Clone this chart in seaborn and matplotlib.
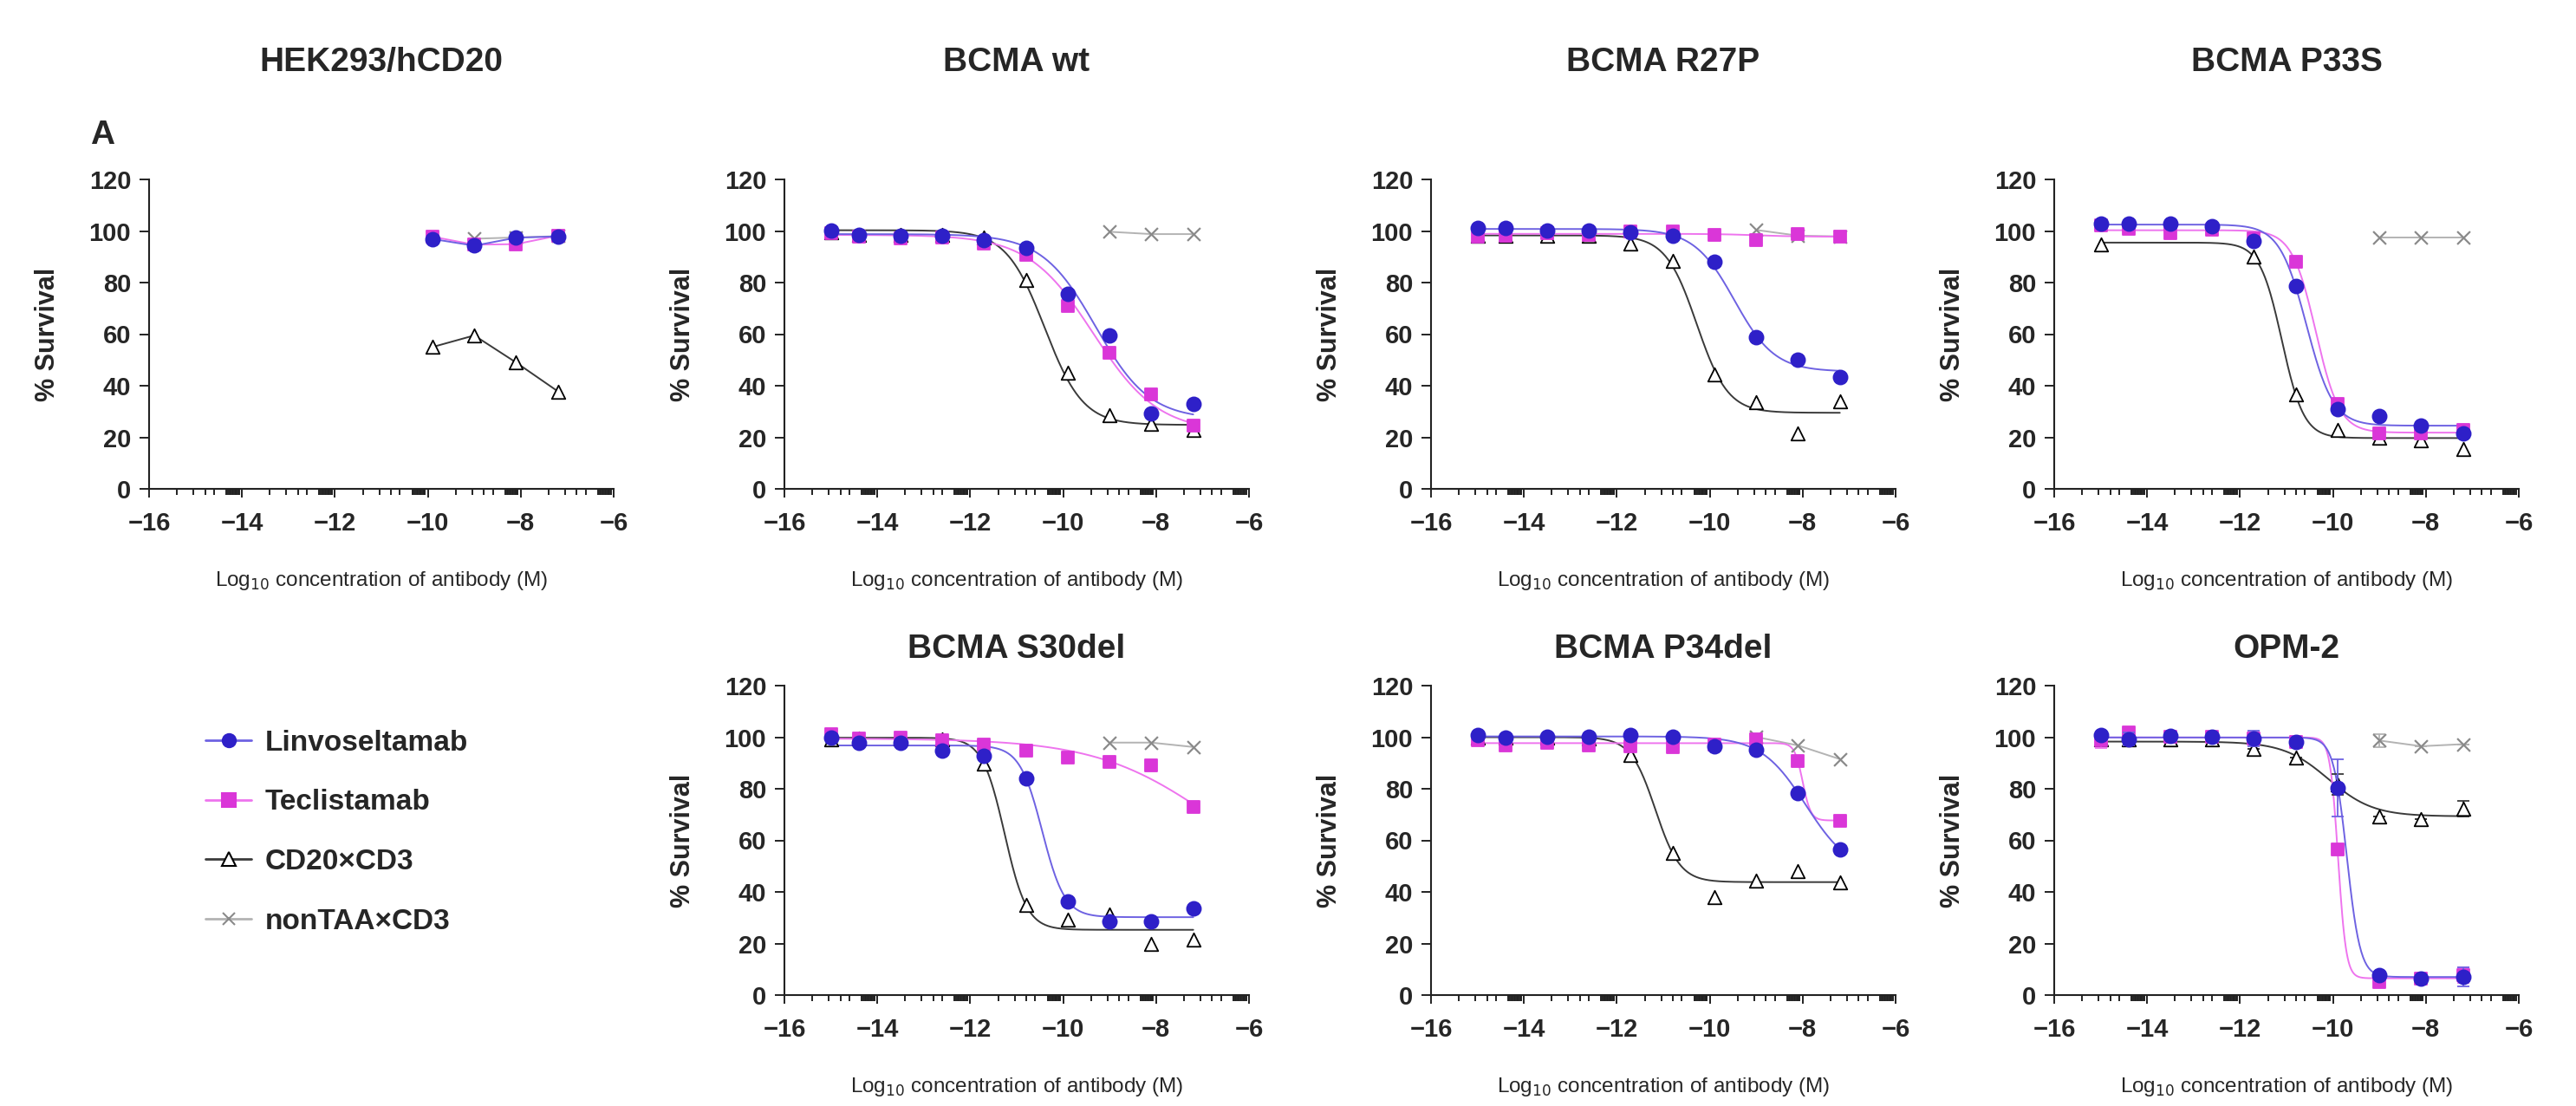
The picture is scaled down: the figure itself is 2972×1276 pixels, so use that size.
import numpy as np
import pandas as pd
import matplotlib
matplotlib.use('Agg')
import matplotlib.pyplot as plt
import seaborn as sns
from matplotlib.lines import Line2D
from matplotlib.ticker import FixedLocator

nan = np.nan

# log10 molar concentrations (first point = no-antibody control)
conc = [-15.0, -14.4, -13.5, -12.6, -11.7, -10.8, -9.9, -9.0, -8.1, -7.2]

panels = ['HEK293/hCD20', 'BCMA wt', 'BCMA R27P', 'BCMA P33S',
          'BCMA S30del', 'BCMA P34del', 'OPM-2']

linvo = {
    'HEK293/hCD20': [nan] * 6 + [96.9, 94.3, 97.4, 97.9],
    'BCMA wt': [100.2, 98.5, 98.2, 98.2, 96.5, 93.4, 75.6, 59.6, 29.1, 33.0],
    'BCMA R27P': [101.3, 101.3, 100.3, 100.3, 99.4, 98.0, 88.1, 58.7, 50.1, 43.2],
    'BCMA P33S': [102.7, 103.0, 102.9, 101.8, 96.0, 78.6, 30.9, 28.1, 24.5, 21.4],
    'BCMA S30del': [99.9, 97.7, 97.7, 94.7, 92.8, 84.2, 36.4, 28.5, 28.5, 33.6],
    'BCMA P34del': [100.9, 99.8, 100.3, 100.1, 100.7, 100.3, 96.5, 95.1, 78.3, 56.5],
    'OPM-2': [100.7, 99.2, 100.5, 100.3, 99.6, 98.1, 80.3, 7.6, 6.5, 7.0],
}
tecli = {
    'HEK293/hCD20': [nan] * 6 + [97.8, 94.7, 94.9, 98.2],
    'BCMA wt': [99.3, 97.9, 97.3, 97.4, 95.1, 90.7, 70.8, 52.7, 36.7, 24.7],
    'BCMA R27P': [97.7, 98.1, 99.0, 98.5, 99.7, 99.9, 98.4, 96.5, 98.8, 97.9],
    'BCMA P33S': [102.1, 100.7, 99.3, 100.4, 97.1, 88.1, 32.8, 21.6, 21.4, 22.7],
    'BCMA S30del': [101.2, 99.6, 99.9, 98.7, 97.0, 94.9, 92.1, 90.4, 89.1, 73.0],
    'BCMA P34del': [98.7, 96.8, 97.9, 96.8, 96.4, 96.2, 97.1, 99.2, 90.8, 67.7],
    'OPM-2': [98.7, 101.8, 100.3, 100.3, 99.6, 98.1, 56.5, 5.0, 6.5, 7.6],
}
cd20 = {
    'HEK293/hCD20': [nan] * 6 + [55.0, 59.5, 49.0, 37.8],
    'BCMA wt': [99.6, 98.6, 98.5, 98.4, 97.4, 80.9, 45.1, 28.5, 25.2, 22.7],
    'BCMA R27P': [98.3, 98.2, 98.2, 98.2, 95.2, 88.5, 44.5, 33.7, 21.6, 33.9],
    'BCMA P33S': [94.9, nan, nan, nan, 90.2, 36.7, 22.7, 19.9, 18.8, 15.4],
    'BCMA S30del': [99.0, 99.5, 99.5, 99.0, 89.7, 35.0, 29.1, 31.3, 19.8, 21.5],
    'BCMA P34del': [100.0, 99.8, 100.0, 99.5, 93.2, 55.0, 38.0, 44.5, 47.9, 43.6],
    'OPM-2': [99.0, 99.0, 99.2, 99.0, 95.3, 92.1, 81.7, 69.4, 68.2, 72.3],
}
nontaa = {
    'HEK293/hCD20': [nan] * 7 + [97.0, 97.5, 98.0],
    'BCMA wt': [nan] * 7 + [99.7, 98.8, 98.8],
    'BCMA R27P': [nan] * 7 + [100.4, 98.2, 97.9],
    'BCMA P33S': [nan] * 7 + [97.4, 97.4, 97.4],
    'BCMA S30del': [nan] * 7 + [97.9, 97.9, 96.2],
    'BCMA P34del': [nan] * 7 + [100.1, 96.8, 91.5],
    'OPM-2': [nan] * 7 + [98.7, 96.5, 97.3],
}

# error bars (only shown for OPM-2)
opm2_err = {
    'Linvoseltamab': [0, 2.5, 0, 0, 3.0, 1.5, 11.0, 1.0, 0.5, 3.7],
    'Teclistamab': [3.0, 1.5, 0, 0, 0, 0, 0, 1.5, 0.5, 3.0],
    'CD20×CD3': [0, 0, 0, 0, 0, 0, 4.0, 0, 0, 3.0],
    'nonTAA×CD3': [0, 0, 0, 0, 0, 0, 0, 2.5, 0, 0],
}

# fitted 4PL curves: top, bottom, logEC50, hill
linvo_fit = {
    'BCMA wt': [98.8, 27.0, -9.3, 0.75],
    'BCMA R27P': [100.8, 45.5, -9.47, 1.0],
    'BCMA P33S': [102.5, 24.5, -10.57, 1.5],
    'BCMA S30del': [96.8, 30.2, -10.45, 1.79],
    'BCMA P34del': [100.3, 47.0, -7.93, 0.9],
    'OPM-2': [99.9, 7.0, -9.7, 3.0],
}
tecli_fit = {
    'BCMA wt': [98.5, 22.0, -9.35, 0.62],
    'BCMA R27P': [98.9, 97.8, -9.0, 1.0],
    'BCMA P33S': [100.3, 21.8, -10.37, 1.69],
    'BCMA S30del': [99.5, 40.0, -6.84, 0.35],
    'BCMA P34del': [97.7, 67.7, -8.0, 5.0],
    'OPM-2': [99.9, 6.5, -9.89, 5.0],
}
cd20_fit = {
    'BCMA wt': [100.3, 24.8, -10.4, 1.05],
    'BCMA R27P': [98.3, 29.5, -10.28, 1.3],
    'BCMA P33S': [95.5, 19.7, -11.10, 1.83],
    'BCMA S30del': [99.8, 25.3, -11.26, 1.81],
    'BCMA P34del': [100.0, 43.8, -11.17, 1.63],
    'OPM-2': [98.3, 69.3, -10.1, 0.9],
}

sns.set_style('ticks')
plt.rcParams['font.family'] = ['Liberation Sans', 'DejaVu Sans']
plt.rcParams['axes.linewidth'] = 1.5

W, H = 2972, 1276
fig = plt.figure(figsize=(W / 100, H / 100), dpi=100)

col_left = [172, 905, 1651, 2370]
row_bottom = [564, 1148]
ax_w, ax_h = 536, 357
where = {'HEK293/hCD20': (0, 0), 'BCMA wt': (0, 1), 'BCMA R27P': (0, 2),
         'BCMA P33S': (0, 3), 'BCMA S30del': (1, 1), 'BCMA P34del': (1, 2),
         'OPM-2': (1, 3)}
title_y = [1 - 72 / H, 1 - 749 / H]

styles = {
    'Linvoseltamab': dict(mc='#2E20C8', lc='#6E62E2', marker='o', s=135, ec='#2E20C8', z=6),
    'Teclistamab': dict(mc='#DA36D8', lc='#EE74EE', marker='s', s=110, ec='#DA36D8', z=5),
    'CD20×CD3': dict(mc='white', lc='#3a3a3a', marker='^', s=125, ec='black', z=4),
    'nonTAA×CD3': dict(mc='#8a8a8a', lc='#b3b3b3', marker='x', s=115, ec='#8a8a8a', z=3),
}
series = {'Linvoseltamab': (linvo, linvo_fit), 'Teclistamab': (tecli, tecli_fit),
          'CD20×CD3': (cd20, cd20_fit), 'nonTAA×CD3': (nontaa, None)}


def four_pl(x, top, bottom, logec, hill):
    return bottom + (top - bottom) / (1 + 10 ** ((x - logec) * hill))


minor = []
for start in range(-16, -6, 2):
    for k in [2, 3, 4, 5, 6.8, 7.05, 7.3, 7.55, 7.8, 8.05, 8.3, 8.55, 8.8, 9.05, 9.3]:
        minor.append(start + 2 * np.log10(k))

xs = np.linspace(conc[0], conc[-1], 400)

for name in panels:
    r, c = where[name]
    ax = fig.add_axes([col_left[c] / W, 1 - row_bottom[r] / H, ax_w / W, ax_h / H])
    for label in ['nonTAA×CD3', 'CD20×CD3', 'Teclistamab', 'Linvoseltamab']:
        st = styles[label]
        vals, fits = series[label]
        df = pd.DataFrame({'x': conc, 'y': vals[name]}).dropna()
        if fits is not None and name in fits:
            sns.lineplot(x=xs, y=four_pl(xs, *fits[name]), ax=ax, color=st['lc'],
                         lw=1.4, zorder=2)
        else:
            sns.lineplot(data=df, x='x', y='y', ax=ax, color=st['lc'], lw=1.4,
                         zorder=2, sort=True)
        if name == 'OPM-2':
            err = np.array(opm2_err[label])
            ok = ~np.isnan(np.array(vals[name], dtype=float))
            ax.errorbar(np.array(conc)[ok], np.array(vals[name])[ok], yerr=err[ok],
                        fmt='none', ecolor=st['lc'], elinewidth=1.3, capsize=5,
                        capthick=1.3, zorder=st['z'] - 0.5)
        if st['marker'] == 'x':
            sns.scatterplot(data=df, x='x', y='y', ax=ax, marker='x', s=st['s'],
                            color=st['mc'], linewidth=1.6, zorder=st['z'])
        else:
            sns.scatterplot(data=df, x='x', y='y', ax=ax, marker=st['marker'],
                            s=st['s'], color=st['mc'], edgecolor=st['ec'],
                            linewidth=1.3, zorder=st['z'])

    ax.set_xlim(-16, -6)
    ax.set_ylim(0, 120)
    ax.set_xticks(range(-16, -5, 2))
    ax.xaxis.set_minor_locator(FixedLocator(minor))
    ax.set_yticks(range(0, 121, 20))
    sns.despine(ax=ax)
    for sp in ['left', 'bottom']:
        ax.spines[sp].set_color('#222222')
        ax.spines[sp].set_linewidth(1.5)
    ax.tick_params(axis='x', which='major', length=7.5, width=1.4, pad=11,
                   labelsize=21, color='#222222')
    ax.tick_params(axis='x', which='minor', length=5, width=1.4, color='#222222')
    ax.tick_params(axis='y', length=8, width=1.4, pad=7, labelsize=21, color='#222222')
    for t in ax.get_xticklabels() + ax.get_yticklabels():
        t.set_fontweight('bold')
    ax.set_xlabel('Log$_{10}$ concentration of antibody (M)', fontsize=17.5)
    ax.xaxis.set_label_coords(0.5, -0.26)
    ax.set_ylabel('% Survival', fontsize=22, fontweight='bold')
    ax.yaxis.set_label_coords(-0.19, 0.5)
    fig.text((col_left[c] + ax_w / 2) / W, title_y[r], name, ha='center',
             va='center', fontsize=28, fontweight='bold')

fig.text(118 / W, 1 - 156 / H, 'A', ha='center', va='center', fontsize=28,
         fontweight='bold')

handles = []
for label in ['Linvoseltamab', 'Teclistamab', 'CD20×CD3', 'nonTAA×CD3']:
    st = styles[label]
    ms = 11 if st['marker'] != 'x' else 10
    handles.append(Line2D([], [], color=st['lc'], lw=2, marker=st['marker'],
                          markersize=ms, markerfacecolor=st['mc'] if st['marker'] != 'x' else 'none',
                          markeredgecolor=st['ec'], markeredgewidth=1.5))
fig.legend(handles, list(styles.keys()), loc='center left',
           bbox_to_anchor=(237 / W, 1 - 960 / H), frameon=False,
           prop={'size': 24, 'weight': 'bold'}, handlelength=1.6,
           handletextpad=0.45, labelspacing=1.13, borderpad=0, borderaxespad=0)

fig.savefig('out.png', dpi=100)
